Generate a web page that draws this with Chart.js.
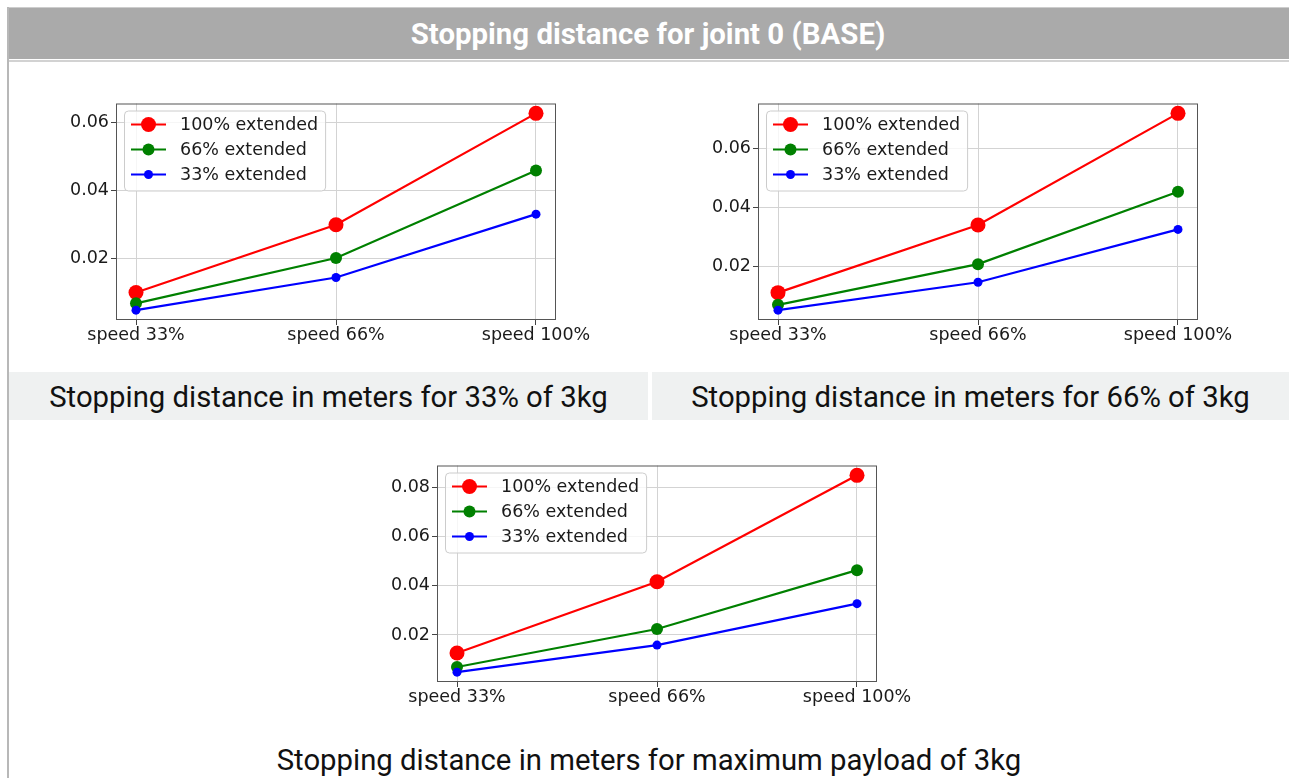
<!DOCTYPE html>
<html>
<head>
<meta charset="utf-8">
<script src="https://cdn.jsdelivr.net/npm/chart.js@4.4.1/dist/chart.umd.min.js"></script>
<style>
  html, body { margin: 0; padding: 0; background: #fff; overflow: hidden; }
  body { width: 1289px; height: 778px; position: relative; font-family: Roboto, sans-serif; }
  #header {
    position: absolute; left: 7px; top: 7px; width: 1282px; height: 51px;
    background: #aaaaaa; border-top: 1px solid #cdcdcd;
    color: #fff; font-weight: bold; font-size: 29.4px; line-height: 53px; text-align: center;
  }
  #headerLine { position: absolute; left: 7px; top: 60px; width: 1282px; height: 2px; background: #d2d2d2; }
  #leftBorder { position: absolute; left: 7px; top: 7px; width: 2px; height: 771px; background: #b8b8b8; }
  .caption {
    position: absolute; height: 48px; line-height: 50px; text-align: center;
    font-size: 29.3px; color: #111; white-space: nowrap;
  }
  #cap1 { left: 9px; top: 372px; width: 639px; background: #eff1f1; }
  #cap2 { left: 652px; top: 372px; width: 637px; background: #eff1f1; }
  #cap3 { left: 9px; top: 735px; width: 1280px; }
  .fig { position: absolute; width: 540px; height: 260px; }
  #fig1 { left: 56px; top: 91px; }
  #fig2 { left: 698px; top: 91px; }
  #fig3 { left: 377px; top: 453px; }
</style>
</head>
<body>
<div id="header">Stopping distance for joint 0 (BASE)</div>
<div id="headerLine"></div>
<div id="leftBorder"></div>

<div class="fig" id="fig1"><canvas id="chart1"></canvas></div>
<div class="fig" id="fig2"><canvas id="chart2"></canvas></div>
<div class="fig" id="fig3"><canvas id="chart3"></canvas></div>

<div class="caption" id="cap1">Stopping distance in meters for 33% of 3kg</div>
<div class="caption" id="cap2">Stopping distance in meters for 66% of 3kg</div>
<div class="caption" id="cap3">Stopping distance in meters for maximum payload of 3kg</div>

<script>
// categories and series names
const speeds = ['speed 33%', 'speed 66%', 'speed 100%'];
const seriesNames = ['100% extended', '66% extended', '33% extended'];

// payload 33% of 3kg
const p33Ext100 = [0.0100, 0.0299, 0.0626];
const p33Ext66 = [0.0068, 0.0201, 0.0458];
const p33Ext33 = [0.0048, 0.0144, 0.0330];

// payload 66% of 3kg
const p66Ext100 = [0.0113, 0.0341, 0.0717];
const p66Ext66 = [0.0072, 0.0209, 0.0453];
const p66Ext33 = [0.0054, 0.0148, 0.0326];

// maximum payload (3kg)
const maxExt100 = [0.0127, 0.0416, 0.0848];
const maxExt66 = [0.0070, 0.0224, 0.0463];
const maxExt33 = [0.0049, 0.0159, 0.0327];

// y tick labels
const yTicksLow = [0.02, 0.04, 0.06];
const yTicksHigh = [0.02, 0.04, 0.06, 0.08];

const FONT = { family: '"DejaVu Sans", sans-serif', size: 17.5 };
const TEXT = '#1a1a1a';

// matplotlib style: frame round the plot area
const frame = {
    id: 'frame',
    beforeDatasetsDraw(chart) {
        const { ctx, chartArea: a } = chart;
        ctx.save();
        ctx.strokeStyle = '#555';
        ctx.lineWidth = 1;
        ctx.strokeRect(a.left + 0.5, a.top + 0.5, a.right - a.left - 1, a.bottom - a.top - 1);
        ctx.restore();
    }
};

// legend boxed in the upper left corner of the plot
const insetLegend = {
    id: 'insetLegend',
    afterDatasetsDraw(chart) {
        const { ctx, chartArea: a } = chart;
        const sets = chart.data.datasets;
        const x0 = a.left + 8, y0 = a.top + 7;
        ctx.save();
        ctx.font = `${FONT.size}px ${FONT.family}`;
        const tw = Math.max(...sets.map(d => ctx.measureText(d.label).width));
        const w = 7 + 35 + 14 + tw + 7, h = 80;
        ctx.beginPath();
        ctx.roundRect(x0 + 0.5, y0 + 0.5, w, h, 4);
        ctx.fillStyle = 'rgba(255,255,255,0.8)';
        ctx.fill();
        ctx.strokeStyle = '#cccccc';
        ctx.lineWidth = 1;
        ctx.stroke();
        sets.forEach((d, i) => {
            const cy = y0 + 14 + i * 25;
            ctx.strokeStyle = d.borderColor;
            ctx.lineWidth = d.borderWidth;
            ctx.beginPath();
            ctx.moveTo(x0 + 7, cy);
            ctx.lineTo(x0 + 42, cy);
            ctx.stroke();
            ctx.fillStyle = d.pointBackgroundColor;
            ctx.beginPath();
            ctx.arc(x0 + 24.5, cy, d.pointRadius, 0, Math.PI * 2);
            ctx.fill();
            ctx.fillStyle = TEXT;
            ctx.textBaseline = 'middle';
            ctx.fillText(d.label, x0 + 56, cy + 1);
        });
        ctx.restore();
    }
};

function series(label, values, color, radius, order) {
    return {
        label,
        data: values.map((v, i) => ({ x: i, y: v })),
        borderColor: color,
        backgroundColor: color,
        pointBackgroundColor: color,
        pointBorderColor: color,
        pointBorderWidth: 0,
        pointRadius: radius,
        pointHoverRadius: radius,
        borderWidth: 2.2,
        tension: 0,
        order
    };
}

function makeChart(id, ext100, ext66, ext33, yTicks) {
    const all = ext100.concat(ext66, ext33);
    const lo = Math.min(...all), hi = Math.max(...all);
    const pad = (hi - lo) * 0.05;

    new Chart(document.getElementById(id), {
        type: 'line',
        data: {
            datasets: [
                series(seriesNames[0], ext100, '#ff0000', 7.5, 3),
                series(seriesNames[1], ext66, '#008000', 6, 2),
                series(seriesNames[2], ext33, '#0000ff', 4.5, 1)
            ]
        },
        options: {
            responsive: true,
            maintainAspectRatio: false,
            animation: false,
            layout: { padding: { left: 0, top: 10, right: 40, bottom: 0 } },
            plugins: { legend: { display: false }, tooltip: { enabled: false } },
            scales: {
                x: {
                    type: 'linear',
                    min: -0.1,
                    max: 2.1,
                    afterBuildTicks: axis => { axis.ticks = speeds.map((_, i) => ({ value: i })); },
                    afterFit: axis => { axis.height = 31; },
                    grid: { color: '#d3d3d3', tickColor: '#444', tickLength: 5, lineWidth: 1 },
                    border: { display: false },
                    ticks: {
                        color: TEXT, font: FONT, padding: 0, autoSkip: false, maxRotation: 0,
                        callback: v => speeds[v]
                    }
                },
                y: {
                    type: 'linear',
                    min: lo - pad,
                    max: hi + pad,
                    afterBuildTicks: axis => { axis.ticks = yTicks.map(v => ({ value: v })); },
                    afterFit: axis => { axis.width = 60; },
                    grid: { color: '#d3d3d3', tickColor: '#444', tickLength: 5, lineWidth: 1 },
                    border: { display: false },
                    ticks: { color: TEXT, font: FONT, padding: 2, callback: v => v.toFixed(2) }
                }
            }
        },
        plugins: [frame, insetLegend]
    });
}

makeChart('chart1', p33Ext100, p33Ext66, p33Ext33, yTicksLow);
makeChart('chart2', p66Ext100, p66Ext66, p66Ext33, yTicksLow);
makeChart('chart3', maxExt100, maxExt66, maxExt33, yTicksHigh);
</script>
</body>
</html>
